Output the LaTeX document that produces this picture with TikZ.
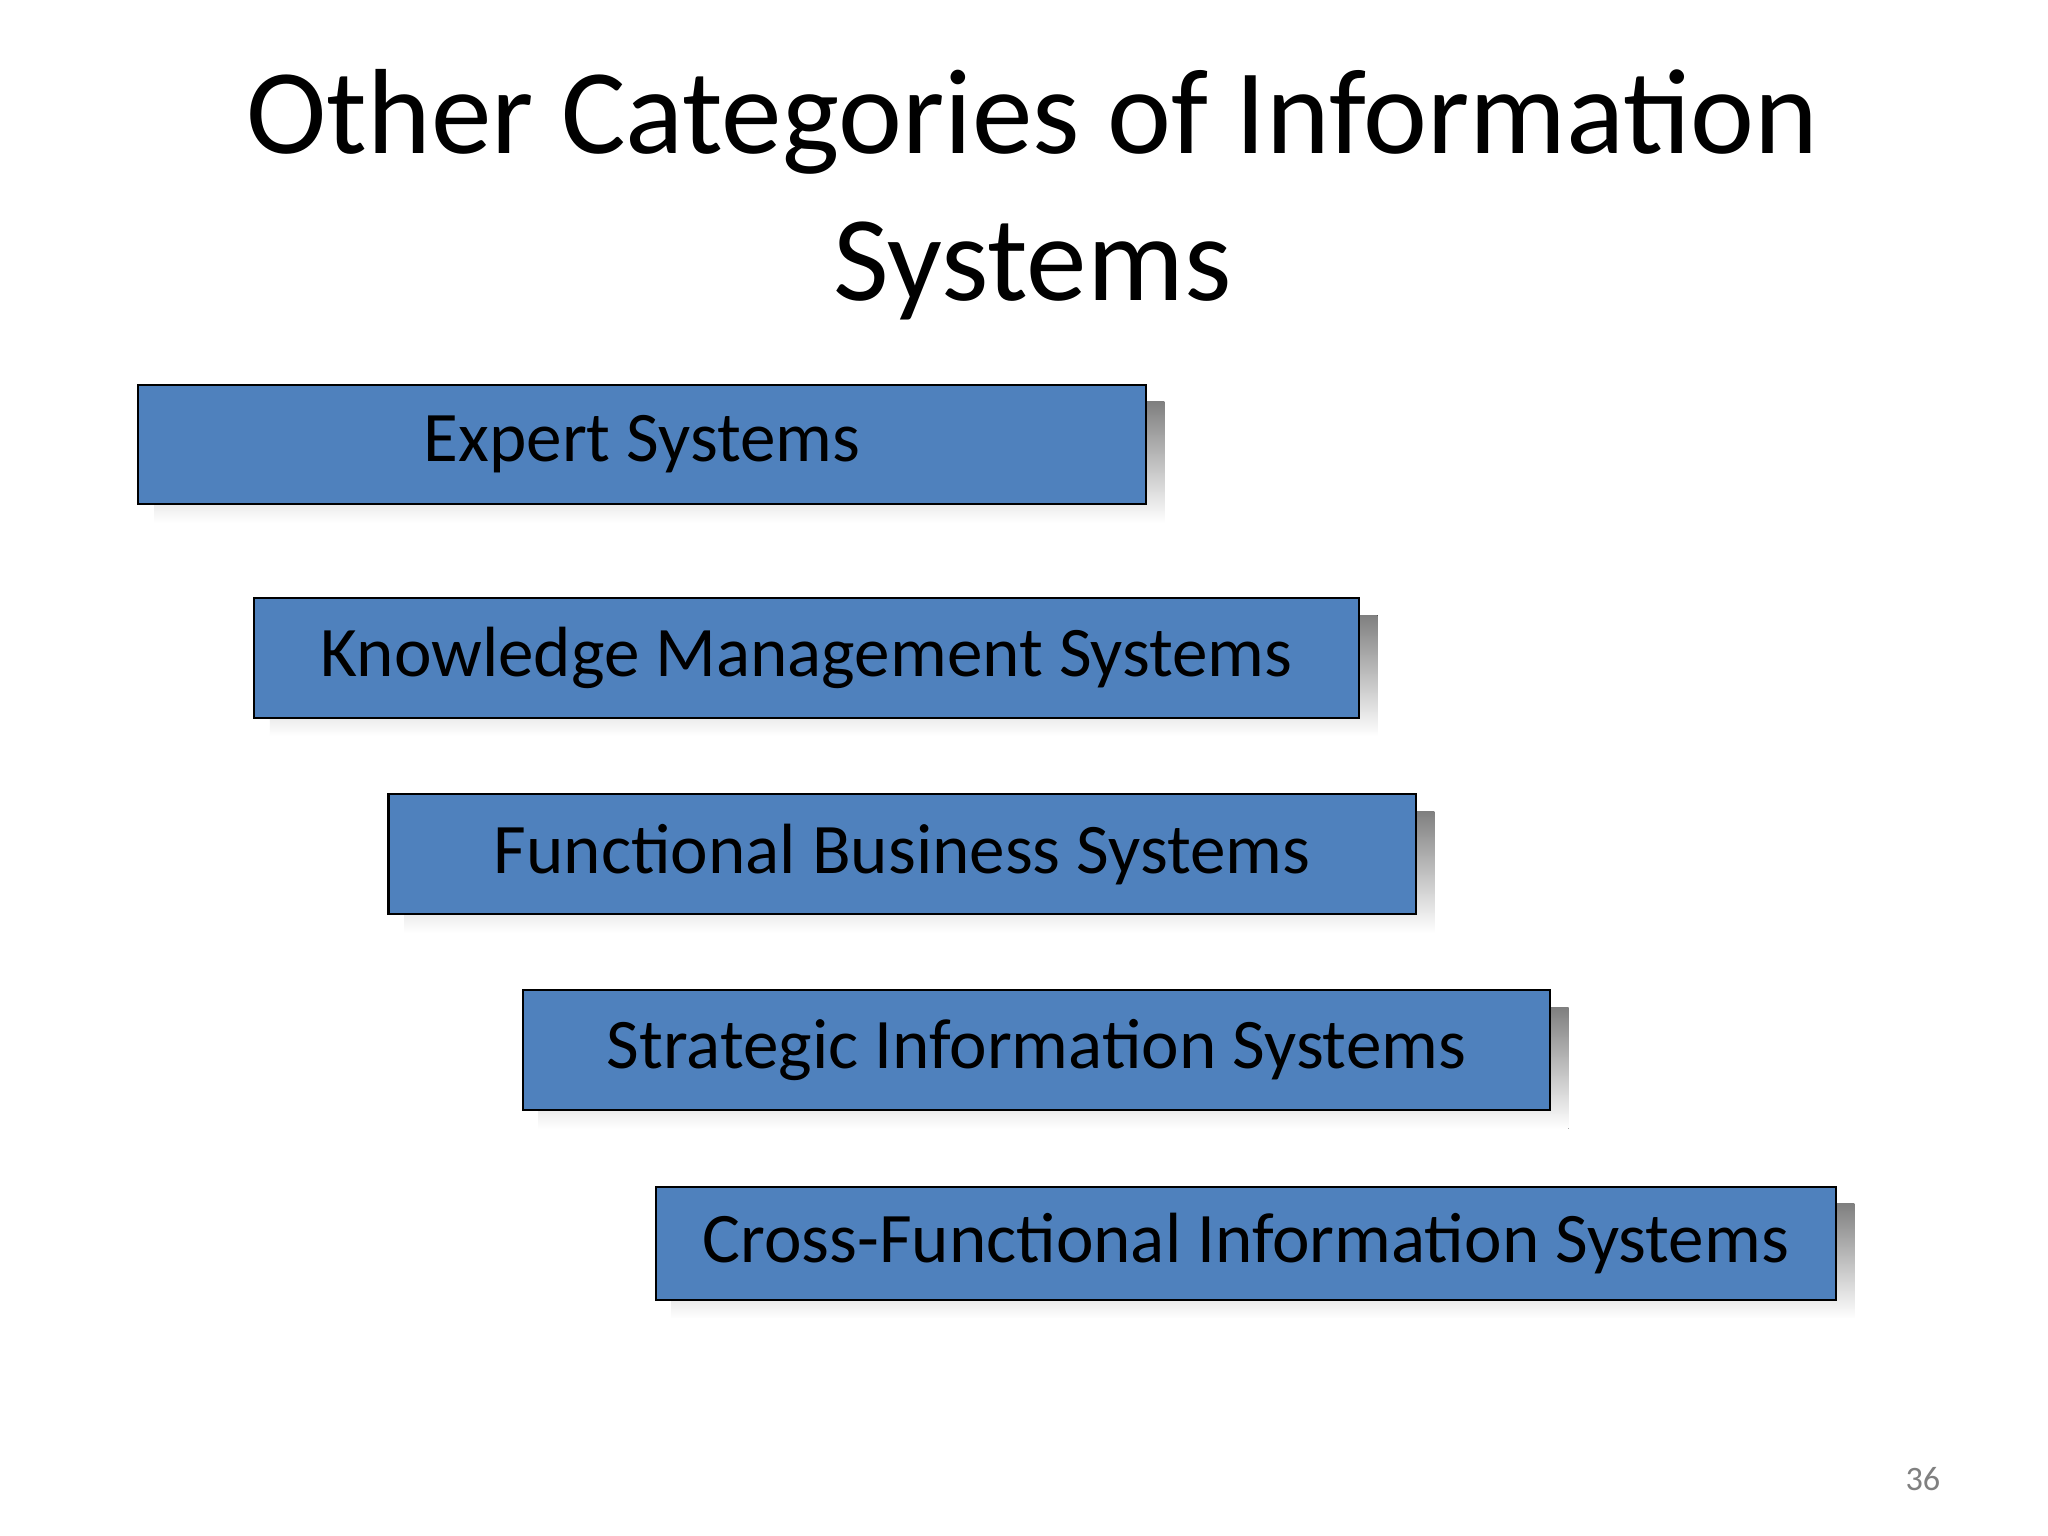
\documentclass[tikz,border=0pt]{standalone}
\usepackage{fontspec}
\setmainfont{Carlito}
\definecolor{boxblue}{HTML}{4F81BD}
\definecolor{shade}{HTML}{EAE9DC}
\begin{document}
\begin{tikzpicture}[x=0.5pt,y=-0.5pt,
  box/.style={draw=black, line width=0.8pt, fill=boxblue, font=\fontsize{27}{30}\selectfont, inner sep=0pt}]
\useasboundingbox (0,0) rectangle (1555,1166);
\fill[white] (0,0) rectangle (1555,1166);
\node[font=\fontsize{46}{56}\selectfont, align=center] (title) at (784,148) {Other Categories of Information\\Systems};
\foreach \n/\xa/\ya/\xb/\yb/\t in {
  a/105/292/870/383/Expert Systems,
  b/193/454/1032/545/Knowledge Management Systems,
  c/295/603/1075/694/Functional Business Systems,
  d/397/752/1177/843/Strategic Information Systems,
  e/498/901/1394/987/Cross-Functional Information Systems}{
  \fill[shade] (\xa+12,\ya+13) rectangle (\xb+14,\yb+14);
  \node[box, minimum width={(\xb-\xa)*0.5pt}, minimum height={(\yb-\ya)*0.5pt}] (\n) at ({(\xa+\xb)/2},{(\ya+\yb)/2}) {\t};
}
\node[text=gray, font=\fontsize{13}{15}\selectfont] (pg) at (1460,1123) {36};
\end{tikzpicture}
\end{document}
